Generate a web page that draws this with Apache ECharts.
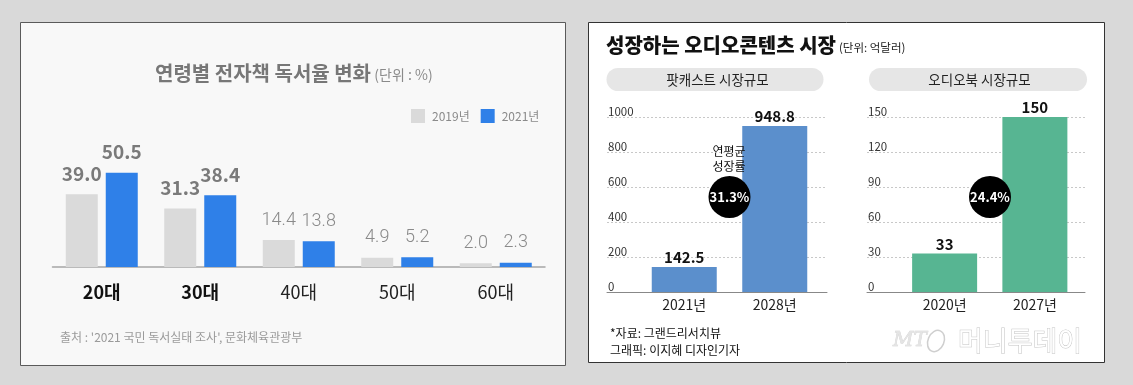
<!DOCTYPE html>
<html><head><meta charset="utf-8">
<script src="https://cdn.jsdelivr.net/npm/echarts@6/dist/echarts.min.js"></script>
<style>html,body{margin:0;padding:0;background:#d9d9d9;}#c{width:1133px;height:385px;}</style>
</head><body><div id="c"></div>
<script>
// ---- data ----
const ageGroups = ['20대', '30대', '40대', '50대', '60대'];
const rate2019 = [39.0, 31.3, 14.4, 4.9, 2.0];
const rate2021 = [50.5, 38.4, 13.8, 5.2, 2.3];
const seriesNames = ['2019년', '2021년'];
const boldGroups = ['20대', '30대'];

const podcastYears = ['2021년', '2028년'];
const podcastValues = [142.5, 948.8];
const podcastAxis = { min: 0, max: 1000, interval: 200 };

const audiobookYears = ['2020년', '2027년'];
const audiobookValues = [33, 150];
const audiobookAxis = { min: 0, max: 150, interval: 30 };

const growthRates = ['31.3%', '24.4%'];

// ---- styles ----
const KR = "'Noto Sans CJK KR', 'Noto Sans', sans-serif";
const LIGHT = "Roboto, 'Noto Sans CJK KR', sans-serif";

const chart = echarts.init(document.getElementById('c'), null, { renderer: 'canvas' });

function leftData(values) {
  return values.map((v, i) => {
    const bold = boldGroups.includes(ageGroups[i]);
    return {
      value: v,
      label: bold
        ? { fontSize: 19, fontWeight: 'bold', color: '#7a7a7a', fontFamily: KR }
        : { fontSize: 18, fontWeight: 300, color: '#8a8a8a', fontFamily: LIGHT }
    };
  });
}

const axisGrid = (gi, cfg) => ([{
  gridIndex: gi, type: 'value', min: cfg.min, max: cfg.max, interval: cfg.interval,
  axisLine: { show: false }, axisTick: { show: false },
  axisLabel: { inside: true, margin: 1, align: 'left', verticalAlign: 'bottom',
    color: '#333', fontSize: 11.5, fontFamily: KR, formatter: v => String(v) },
  splitLine: { show: true, lineStyle: { type: [2, 2], color: '#c8c8c8', width: 1 } }
}]);

const valueLabel = { show: true, position: 'top', distance: 2, fontSize: 15, fontWeight: 'bold', color: '#111', fontFamily: KR };

const option = {
  backgroundColor: '#d9d9d9',
  animation: false,
  graphic: [
    { type: 'rect', z: -10, shape: { x: 20.5, y: 22.5, width: 545, height: 343 },
      style: { fill: '#f8f8f8', stroke: '#5a5a5a', lineWidth: 1 } },
    { type: 'rect', z: -10, shape: { x: 588.5, y: 22.5, width: 516, height: 340 },
      style: { fill: '#ffffff', stroke: '#333333', lineWidth: 1 } },
    // left title
    { type: 'text', x: 155, y: 73, style: {
      text: '{a|연령별 전자책 독서율 변화} {b|(단위 : %)}', verticalAlign: 'middle',
      rich: { a: { fontSize: 20, fontWeight: 'bold', fill: '#777', fontFamily: KR },
              b: { fontSize: 14, fill: '#8a8a8a', fontFamily: KR, padding: [4, 0, 0, 0] } } } },
    { type: 'text', x: 60, y: 337, style: {
      text: "출처 : '2021 국민 독서실태 조사', 문화체육관광부", fontSize: 12, fill: '#9a9a9a', fontFamily: KR, verticalAlign: 'middle' } },
    // right title
    { type: 'text', x: 606, y: 45, style: {
      text: '{a|성장하는 오디오콘텐츠 시장}{b|(단위: 억달러)}', verticalAlign: 'middle',
      rich: { a: { fontSize: 20, fontWeight: 900, fill: '#111', fontFamily: KR },
              b: { fontSize: 11.5, fill: '#222', fontFamily: KR, padding: [5, 0, 0, 3] } } } },
    { type: 'rect', shape: { x: 606.5, y: 68, width: 217, height: 23, r: 11.5 }, style: { fill: '#e6e6e6' } },
    { type: 'rect', shape: { x: 869, y: 68, width: 218, height: 23, r: 11.5 }, style: { fill: '#e6e6e6' } },
    { type: 'text', x: 717.5, y: 80, style: { text: '팟캐스트 시장규모', fontSize: 13.5, fill: '#222', fontFamily: KR, align: 'center', verticalAlign: 'middle' } },
    { type: 'text', x: 979.5, y: 80, style: { text: '오디오북 시장규모', fontSize: 13.5, fill: '#222', fontFamily: KR, align: 'center', verticalAlign: 'middle' } },
    // growth annotations
    { type: 'text', x: 729, y: 159, z: 100, style: { text: '연평균\n성장률', fontSize: 12, lineHeight: 15.5, fill: '#111', fontFamily: KR, align: 'center', verticalAlign: 'middle' } },
    { type: 'circle', z: 100, shape: { cx: 729.5, cy: 197, r: 21 }, style: { fill: '#000' } },
    { type: 'text', x: 729.5, y: 197, z: 101, style: { text: growthRates[0], fontSize: 13, fontWeight: 'bold', fill: '#fff', fontFamily: KR, align: 'center', verticalAlign: 'middle' } },
    { type: 'circle', z: 100, shape: { cx: 990, cy: 197, r: 21 }, style: { fill: '#000' } },
    { type: 'text', x: 990, y: 197, z: 101, style: { text: growthRates[1], fontSize: 13, fontWeight: 'bold', fill: '#fff', fontFamily: KR, align: 'center', verticalAlign: 'middle' } },
    // right footer
    { type: 'text', x: 610, y: 333, style: { text: '*자료: 그랜드리서치뷰', fontSize: 12, fill: '#111', fontFamily: KR, verticalAlign: 'middle' } },
    { type: 'text', x: 610, y: 350, style: { text: '그래픽: 이지혜 디자인기자', fontSize: 12, fill: '#111', fontFamily: KR, verticalAlign: 'middle' } },
    // watermark
    { type: 'text', x: 893, y: 341, style: { text: 'MT', fontSize: 20, fontStyle: 'italic', fill: '#e4e4e4', stroke: '#cfcfcf', lineWidth: 0.6, fontFamily: 'DejaVu Serif', verticalAlign: 'middle' } },
    { type: 'ellipse', shape: { cx: 936, cy: 341, rx: 8, ry: 11 }, rotation: -0.4, originX: 936, originY: 341, style: { fill: 'none', stroke: '#cfcfcf', lineWidth: 1.5 } },
    { type: 'text', x: 958, y: 341, style: { text: '머니투데이', fontSize: 27, fill: '#fff', stroke: '#c4c4c4', lineWidth: 1, fontFamily: KR, verticalAlign: 'middle' } }
  ],
  legend: {
    data: seriesNames, left: 406, top: 104, itemWidth: 14, itemHeight: 14, itemGap: 11,
    icon: 'rect', textStyle: { color: '#8a8a8a', fontSize: 12, fontFamily: KR, padding: [0, 0, 0, 2] }
  },
  grid: [
    { left: 52.5, width: 492.5, top: 155, bottom: 118 },
    { left: 607, width: 220, top: 117, bottom: 93 },
    { left: 639, width: 181, top: 117, bottom: 93 },
    { left: 867, width: 218, top: 117, bottom: 93 },
    { left: 899.5, width: 180.5, top: 117, bottom: 93 }
  ],
  xAxis: [
    { gridIndex: 0, type: 'category', data: ageGroups,
      axisLine: { lineStyle: { color: '#a5a5a5', width: 1.5 } }, axisTick: { show: false },
      axisLabel: { margin: 16, fontSize: 18, color: '#222', fontFamily: KR,
        formatter: v => boldGroups.includes(v) ? '{b|' + v + '}' : '{n|' + v + '}',
        rich: { b: { fontSize: 18, fontWeight: 'bold', color: '#111', fontFamily: KR },
                n: { fontSize: 18, color: '#222', fontFamily: KR } } } },
    { gridIndex: 1, type: 'category', data: podcastYears, axisLabel: { show: false }, axisTick: { show: false },
      axisLine: { lineStyle: { color: '#888', width: 1 } } },
    { gridIndex: 2, type: 'category', data: podcastYears, axisLine: { show: false }, axisTick: { show: false },
      axisLabel: { margin: 6, fontSize: 14, color: '#222', fontFamily: KR } },
    { gridIndex: 3, type: 'category', data: audiobookYears, axisLabel: { show: false }, axisTick: { show: false },
      axisLine: { lineStyle: { color: '#888', width: 1 } } },
    { gridIndex: 4, type: 'category', data: audiobookYears, axisLine: { show: false }, axisTick: { show: false },
      axisLabel: { margin: 6, fontSize: 14, color: '#222', fontFamily: KR } }
  ],
  yAxis: [
    { gridIndex: 0, type: 'value', min: 0, max: 60, show: false },
    ...axisGrid(1, podcastAxis),
    { gridIndex: 2, type: 'value', min: podcastAxis.min, max: podcastAxis.max, show: false },
    ...axisGrid(3, audiobookAxis),
    { gridIndex: 4, type: 'value', min: audiobookAxis.min, max: audiobookAxis.max, show: false }
  ],
  series: [
    { name: seriesNames[0], type: 'bar', xAxisIndex: 0, yAxisIndex: 0, barWidth: 32, barGap: '25%',
      itemStyle: { color: '#dadada' }, data: leftData(rate2019),
      label: { show: true, position: 'top', distance: 11, formatter: p => p.value.toFixed(1) } },
    { name: seriesNames[1], type: 'bar', xAxisIndex: 0, yAxisIndex: 0, barWidth: 32, barGap: '25%',
      itemStyle: { color: '#2f80e8' }, data: leftData(rate2021),
      label: { show: true, position: 'top', distance: 11, formatter: p => p.value.toFixed(1) } },
    { name: 'podcastAxis', type: 'line', xAxisIndex: 1, yAxisIndex: 1, data: [], silent: true },
    { name: '팟캐스트', type: 'bar', xAxisIndex: 2, yAxisIndex: 2, barWidth: 65,
      itemStyle: { color: '#5b8fcc' }, data: podcastValues, label: valueLabel },
    { name: 'audiobookAxis', type: 'line', xAxisIndex: 3, yAxisIndex: 3, data: [], silent: true },
    { name: '오디오북', type: 'bar', xAxisIndex: 4, yAxisIndex: 4, barWidth: 65,
      itemStyle: { color: '#57b592' }, data: audiobookValues, label: valueLabel }
  ]
};
chart.setOption(option);
</script></body></html>
